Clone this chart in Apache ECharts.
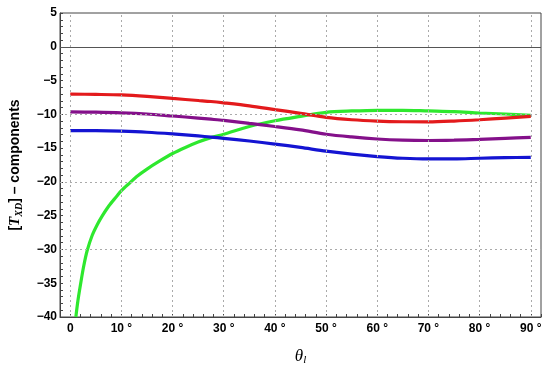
<!DOCTYPE html>
<html>
<head>
<meta charset="utf-8">
<script src="https://cdn.jsdelivr.net/npm/echarts@6/dist/echarts.min.js"></script>
<style>html,body{margin:0;padding:0;background:#fff}#c{width:550px;height:371px}</style>
</head>
<body>
<div id="c"></div>
<script>
// Angles (degrees) shared by red, purple and blue curves
const theta = [0,5,10,15,20,25,27.5,30,35,40,45,50,55,60,65,70,75,80,85,90];
const redVals    = [-7.0,-7.05,-7.13,-7.35,-7.65,-7.95,-8.1,-8.3,-8.75,-9.3,-9.85,-10.45,-10.8,-11.0,-11.1,-11.12,-11.0,-10.8,-10.55,-10.3];
const purpleVals = [-9.65,-9.68,-9.77,-9.95,-10.25,-10.55,-10.72,-10.9,-11.35,-11.8,-12.3,-12.95,-13.35,-13.65,-13.82,-13.87,-13.82,-13.72,-13.55,-13.4];
const blueVals   = [-12.4,-12.42,-12.5,-12.65,-12.9,-13.2,-13.37,-13.55,-13.95,-14.4,-14.9,-15.45,-15.9,-16.25,-16.5,-16.6,-16.6,-16.5,-16.42,-16.36];
// Green curve has its own sampling (steep near 0)
const greenTheta = [1.1,1.5,2.05,2.6,3.3,4.3,5.3,6.2,7.5,9,10,11.7,13,15,17.5,20,22.5,25,27.5,30,35,40,45,50,55,60,65,70,75,80,85,90];
const greenVals  = [-40,-37.6,-35,-32.6,-30.2,-27.9,-26.3,-25.1,-23.6,-22.2,-21.3,-20.1,-19.2,-18.1,-16.9,-15.8,-14.9,-14.1,-13.45,-12.95,-11.8,-10.95,-10.3,-9.7,-9.5,-9.4,-9.4,-9.5,-9.6,-9.8,-9.95,-10.15];

// axis ranges, tick steps and gridline positions
const xRange = [-2, 92];
const xMinor = 2, xLabelStep = 10;
const yRange = [-40, 5];
const yMinor = 1, yLabelStep = 5;
const xGridVals = [0, 10, 20, 30, 40, 50, 60, 70, 80, 90];
const yGridVals = [-30, -20, -10];
const yZero = [0];

const pair = (xs, ys) => xs.map((x, i) => [x, ys[i]]);
const frame = '#444';
const lblFont = {fontFamily: 'Liberation Sans, Arial, sans-serif', fontWeight: 'bold', fontSize: 12, color: '#000'};
const isStep = (v, s) => Math.abs(v / s - Math.round(v / s)) < 1e-6;

const chart = echarts.init(document.getElementById('c'), null, {renderer: 'canvas'});
chart.setOption({
  animation: false,
  grid: {left: 54, right: 9, top: 13, bottom: 51, containLabel: false, show: true, borderColor: frame, borderWidth: 1, backgroundColor: 'transparent'},
  xAxis: {type: 'value', min: xRange[0], max: xRange[1], interval: xMinor,
    axisLine: {show: true, onZero: false, lineStyle: {color: frame, width: 1}},
    axisTick: {show: true, interval: 0, inside: false, length: -3, lineStyle: {color: frame, width: 1}},
    splitLine: {show: false},
    axisLabel: Object.assign({interval: 0, margin: 6,
      formatter: v => (!isStep(v, xLabelStep) || v < 0 || v > 90) ? '' : (v === 0 ? '0' : v + ' °')}, lblFont),
    name: '{t|θ}{s|l}', nameLocation: 'middle', nameGap: 30,
    nameTextStyle: {rich: {
      t: {fontFamily: 'Liberation Serif, serif', fontStyle: 'italic', fontSize: 17, color: '#000'},
      s: {fontFamily: 'Liberation Serif, serif', fontStyle: 'italic', fontSize: 11, color: '#000', padding: [8, 0, 0, 0]}
    }}},
  yAxis: {type: 'value', min: yRange[0], max: yRange[1], interval: yMinor,
    axisLine: {show: true, onZero: false, lineStyle: {color: frame, width: 1}},
    axisTick: {show: true, interval: 0, inside: false, length: -3, lineStyle: {color: frame, width: 1}},
    splitLine: {show: false},
    axisLabel: Object.assign({interval: 0, margin: 3,
      formatter: v => !isStep(v, yLabelStep) ? '' : (v < 0 ? '\u2212' + (-v) : String(v))}, lblFont),
    name: '{b|[}{t|T}{s|XD}{b|] – components}', nameLocation: 'middle', nameGap: 36, nameRotate: 90,
    nameTextStyle: {rich: {
      b: {fontFamily: 'Liberation Sans, Arial, sans-serif', fontWeight: 'bold', fontSize: 14, color: '#000'},
      t: {fontFamily: 'Liberation Serif, serif', fontStyle: 'italic', fontWeight: 'bold', fontSize: 15, color: '#000'},
      s: {fontFamily: 'Liberation Serif, serif', fontStyle: 'italic', fontWeight: 'bold', fontSize: 10, color: '#000', padding: [7, 0, 0, 0]}
    }}},
  series: [
    // dashed gridlines and the solid zero line, under the curves
    {type: 'line', name: 'grid', data: [], z: 1, silent: true,
     markLine: {silent: true, symbol: 'none', label: {show: false}, animation: false,
       lineStyle: {color: '#aaa', type: [2, 3], width: 1},
       data: xGridVals.map(v => ({xAxis: v})).concat(yGridVals.map(v => ({yAxis: v})))
         .concat(yZero.map(v => ({yAxis: v, lineStyle: {color: '#555', type: 'solid', width: 1}})))}},
    {type: 'line', name: 'green', data: pair(greenTheta, greenVals), smooth: 0.3, showSymbol: false, z: 3,
     lineStyle: {color: '#2ee82e', width: 3.2}, itemStyle: {color: '#2ee82e'}},
    {type: 'line', name: 'red', data: pair(theta, redVals), smooth: 0.3, showSymbol: false, z: 4,
     lineStyle: {color: '#e31a1c', width: 3.2}, itemStyle: {color: '#e31a1c'}},
    {type: 'line', name: 'purple', data: pair(theta, purpleVals), smooth: 0.3, showSymbol: false, z: 4,
     lineStyle: {color: '#84108a', width: 3.2}, itemStyle: {color: '#84108a'}},
    {type: 'line', name: 'blue', data: pair(theta, blueVals), smooth: 0.3, showSymbol: false, z: 4,
     lineStyle: {color: '#1414d2', width: 3.2}, itemStyle: {color: '#1414d2'}}
  ]
});
</script>
</body>
</html>
